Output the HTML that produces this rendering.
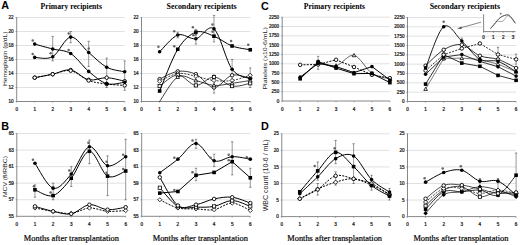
<!DOCTYPE html>
<html><head><meta charset="utf-8"><style>
html,body{margin:0;padding:0;background:#fff;}
body{width:520px;height:245px;overflow:hidden;}
svg{display:block;}
.tk{font-family:"Liberation Sans",sans-serif;font-size:4.6px;fill:#222;stroke:#222;stroke-width:0.24px;}
.st{font-family:"Liberation Sans",sans-serif;font-size:5px;fill:#555;}
.pl{font-family:"Liberation Sans",sans-serif;font-size:10.8px;font-weight:bold;fill:#000;}
.ti{font-family:"Liberation Serif",serif;font-size:8.4px;font-weight:bold;fill:#000;}
.xl{font-family:"Liberation Serif",serif;font-size:8.7px;fill:#000;stroke:#000;stroke-width:0.2px;}
.yl{font-family:"Liberation Sans",sans-serif;font-size:5.5px;fill:#222;}
</style></head><body>
<svg width="520" height="245" viewBox="0 0 520 245">
<rect width="520" height="245" fill="#fff"/>
<line x1="16.7" y1="87.5" x2="124.7" y2="87.5" stroke="#d4d4d4" stroke-width="0.7"/>
<line x1="16.7" y1="73.5" x2="124.7" y2="73.5" stroke="#d4d4d4" stroke-width="0.7"/>
<line x1="16.7" y1="59.5" x2="124.7" y2="59.5" stroke="#d4d4d4" stroke-width="0.7"/>
<line x1="16.7" y1="45.5" x2="124.7" y2="45.5" stroke="#d4d4d4" stroke-width="0.7"/>
<line x1="16.7" y1="31.5" x2="124.7" y2="31.5" stroke="#d4d4d4" stroke-width="0.7"/>
<line x1="16.7" y1="17.5" x2="124.7" y2="17.5" stroke="#d4d4d4" stroke-width="0.7"/>
<line x1="16.7" y1="17.2" x2="16.7" y2="101.5" stroke="#6a6a6a" stroke-width="0.8"/>
<line x1="16.7" y1="101.5" x2="124.7" y2="101.5" stroke="#6a6a6a" stroke-width="0.8"/>
<line x1="15.5" y1="101.5" x2="16.7" y2="101.5" stroke="#6a6a6a" stroke-width="0.6"/>
<text x="13.7" y="103.1" class="tk" text-anchor="end">10</text>
<line x1="15.5" y1="87.5" x2="16.7" y2="87.5" stroke="#6a6a6a" stroke-width="0.6"/>
<text x="13.7" y="89.1" class="tk" text-anchor="end">12</text>
<line x1="15.5" y1="73.5" x2="16.7" y2="73.5" stroke="#6a6a6a" stroke-width="0.6"/>
<text x="13.7" y="75.1" class="tk" text-anchor="end">14</text>
<line x1="15.5" y1="59.5" x2="16.7" y2="59.5" stroke="#6a6a6a" stroke-width="0.6"/>
<text x="13.7" y="61.1" class="tk" text-anchor="end">16</text>
<line x1="15.5" y1="45.5" x2="16.7" y2="45.5" stroke="#6a6a6a" stroke-width="0.6"/>
<text x="13.7" y="47.1" class="tk" text-anchor="end">18</text>
<line x1="15.5" y1="31.5" x2="16.7" y2="31.5" stroke="#6a6a6a" stroke-width="0.6"/>
<text x="13.7" y="33.1" class="tk" text-anchor="end">20</text>
<line x1="15.5" y1="17.5" x2="16.7" y2="17.5" stroke="#6a6a6a" stroke-width="0.6"/>
<text x="13.7" y="19.1" class="tk" text-anchor="end">22</text>
<line x1="16.7" y1="101.5" x2="16.7" y2="102.7" stroke="#6a6a6a" stroke-width="0.6"/>
<text x="16.7" y="111.3" class="tk" text-anchor="middle">0</text>
<line x1="34.7" y1="101.5" x2="34.7" y2="102.7" stroke="#6a6a6a" stroke-width="0.6"/>
<text x="34.7" y="111.3" class="tk" text-anchor="middle">1</text>
<line x1="52.7" y1="101.5" x2="52.7" y2="102.7" stroke="#6a6a6a" stroke-width="0.6"/>
<text x="52.7" y="111.3" class="tk" text-anchor="middle">2</text>
<line x1="70.7" y1="101.5" x2="70.7" y2="102.7" stroke="#6a6a6a" stroke-width="0.6"/>
<text x="70.7" y="111.3" class="tk" text-anchor="middle">3</text>
<line x1="88.7" y1="101.5" x2="88.7" y2="102.7" stroke="#6a6a6a" stroke-width="0.6"/>
<text x="88.7" y="111.3" class="tk" text-anchor="middle">4</text>
<line x1="106.7" y1="101.5" x2="106.7" y2="102.7" stroke="#6a6a6a" stroke-width="0.6"/>
<text x="106.7" y="111.3" class="tk" text-anchor="middle">5</text>
<line x1="124.7" y1="101.5" x2="124.7" y2="102.7" stroke="#6a6a6a" stroke-width="0.6"/>
<text x="124.7" y="111.3" class="tk" text-anchor="middle">6</text>
<line x1="141.5" y1="87.5" x2="250.22" y2="87.5" stroke="#d4d4d4" stroke-width="0.7"/>
<line x1="141.5" y1="73.5" x2="250.22" y2="73.5" stroke="#d4d4d4" stroke-width="0.7"/>
<line x1="141.5" y1="59.5" x2="250.22" y2="59.5" stroke="#d4d4d4" stroke-width="0.7"/>
<line x1="141.5" y1="45.5" x2="250.22" y2="45.5" stroke="#d4d4d4" stroke-width="0.7"/>
<line x1="141.5" y1="31.5" x2="250.22" y2="31.5" stroke="#d4d4d4" stroke-width="0.7"/>
<line x1="141.5" y1="17.5" x2="250.22" y2="17.5" stroke="#d4d4d4" stroke-width="0.7"/>
<line x1="141.5" y1="17.2" x2="141.5" y2="101.5" stroke="#6a6a6a" stroke-width="0.8"/>
<line x1="141.5" y1="101.5" x2="250.22" y2="101.5" stroke="#6a6a6a" stroke-width="0.8"/>
<line x1="140.3" y1="101.5" x2="141.5" y2="101.5" stroke="#6a6a6a" stroke-width="0.6"/>
<text x="138.5" y="103.1" class="tk" text-anchor="end">10</text>
<line x1="140.3" y1="87.5" x2="141.5" y2="87.5" stroke="#6a6a6a" stroke-width="0.6"/>
<text x="138.5" y="89.1" class="tk" text-anchor="end">12</text>
<line x1="140.3" y1="73.5" x2="141.5" y2="73.5" stroke="#6a6a6a" stroke-width="0.6"/>
<text x="138.5" y="75.1" class="tk" text-anchor="end">14</text>
<line x1="140.3" y1="59.5" x2="141.5" y2="59.5" stroke="#6a6a6a" stroke-width="0.6"/>
<text x="138.5" y="61.1" class="tk" text-anchor="end">16</text>
<line x1="140.3" y1="45.5" x2="141.5" y2="45.5" stroke="#6a6a6a" stroke-width="0.6"/>
<text x="138.5" y="47.1" class="tk" text-anchor="end">18</text>
<line x1="140.3" y1="31.5" x2="141.5" y2="31.5" stroke="#6a6a6a" stroke-width="0.6"/>
<text x="138.5" y="33.1" class="tk" text-anchor="end">20</text>
<line x1="140.3" y1="17.5" x2="141.5" y2="17.5" stroke="#6a6a6a" stroke-width="0.6"/>
<text x="138.5" y="19.1" class="tk" text-anchor="end">22</text>
<line x1="141.5" y1="101.5" x2="141.5" y2="102.7" stroke="#6a6a6a" stroke-width="0.6"/>
<text x="141.5" y="111.3" class="tk" text-anchor="middle">0</text>
<line x1="159.62" y1="101.5" x2="159.62" y2="102.7" stroke="#6a6a6a" stroke-width="0.6"/>
<text x="159.62" y="111.3" class="tk" text-anchor="middle">1</text>
<line x1="177.74" y1="101.5" x2="177.74" y2="102.7" stroke="#6a6a6a" stroke-width="0.6"/>
<text x="177.74" y="111.3" class="tk" text-anchor="middle">2</text>
<line x1="195.86" y1="101.5" x2="195.86" y2="102.7" stroke="#6a6a6a" stroke-width="0.6"/>
<text x="195.86" y="111.3" class="tk" text-anchor="middle">3</text>
<line x1="213.98" y1="101.5" x2="213.98" y2="102.7" stroke="#6a6a6a" stroke-width="0.6"/>
<text x="213.98" y="111.3" class="tk" text-anchor="middle">4</text>
<line x1="232.1" y1="101.5" x2="232.1" y2="102.7" stroke="#6a6a6a" stroke-width="0.6"/>
<text x="232.1" y="111.3" class="tk" text-anchor="middle">5</text>
<line x1="250.22" y1="101.5" x2="250.22" y2="102.7" stroke="#6a6a6a" stroke-width="0.6"/>
<text x="250.22" y="111.3" class="tk" text-anchor="middle">6</text>
<line x1="282.2" y1="91.69" x2="389.9" y2="91.69" stroke="#d4d4d4" stroke-width="0.7"/>
<line x1="282.2" y1="82.38" x2="389.9" y2="82.38" stroke="#d4d4d4" stroke-width="0.7"/>
<line x1="282.2" y1="73.07" x2="389.9" y2="73.07" stroke="#d4d4d4" stroke-width="0.7"/>
<line x1="282.2" y1="63.76" x2="389.9" y2="63.76" stroke="#d4d4d4" stroke-width="0.7"/>
<line x1="282.2" y1="54.44" x2="389.9" y2="54.44" stroke="#d4d4d4" stroke-width="0.7"/>
<line x1="282.2" y1="45.13" x2="389.9" y2="45.13" stroke="#d4d4d4" stroke-width="0.7"/>
<line x1="282.2" y1="35.82" x2="389.9" y2="35.82" stroke="#d4d4d4" stroke-width="0.7"/>
<line x1="282.2" y1="26.51" x2="389.9" y2="26.51" stroke="#d4d4d4" stroke-width="0.7"/>
<line x1="282.2" y1="17.2" x2="389.9" y2="17.2" stroke="#d4d4d4" stroke-width="0.7"/>
<line x1="282.2" y1="16.9" x2="282.2" y2="101" stroke="#6a6a6a" stroke-width="0.8"/>
<line x1="282.2" y1="101" x2="389.9" y2="101" stroke="#6a6a6a" stroke-width="0.8"/>
<line x1="281" y1="101" x2="282.2" y2="101" stroke="#6a6a6a" stroke-width="0.6"/>
<text x="279.2" y="102.6" class="tk" text-anchor="end">0</text>
<line x1="281" y1="91.69" x2="282.2" y2="91.69" stroke="#6a6a6a" stroke-width="0.6"/>
<text x="279.2" y="93.29" class="tk" text-anchor="end">250</text>
<line x1="281" y1="82.38" x2="282.2" y2="82.38" stroke="#6a6a6a" stroke-width="0.6"/>
<text x="279.2" y="83.98" class="tk" text-anchor="end">500</text>
<line x1="281" y1="73.07" x2="282.2" y2="73.07" stroke="#6a6a6a" stroke-width="0.6"/>
<text x="279.2" y="74.67" class="tk" text-anchor="end">750</text>
<line x1="281" y1="63.76" x2="282.2" y2="63.76" stroke="#6a6a6a" stroke-width="0.6"/>
<text x="279.2" y="65.36" class="tk" text-anchor="end">1000</text>
<line x1="281" y1="54.44" x2="282.2" y2="54.44" stroke="#6a6a6a" stroke-width="0.6"/>
<text x="279.2" y="56.04" class="tk" text-anchor="end">1250</text>
<line x1="281" y1="45.13" x2="282.2" y2="45.13" stroke="#6a6a6a" stroke-width="0.6"/>
<text x="279.2" y="46.73" class="tk" text-anchor="end">1500</text>
<line x1="281" y1="35.82" x2="282.2" y2="35.82" stroke="#6a6a6a" stroke-width="0.6"/>
<text x="279.2" y="37.42" class="tk" text-anchor="end">1750</text>
<line x1="281" y1="26.51" x2="282.2" y2="26.51" stroke="#6a6a6a" stroke-width="0.6"/>
<text x="279.2" y="28.11" class="tk" text-anchor="end">2000</text>
<line x1="281" y1="17.2" x2="282.2" y2="17.2" stroke="#6a6a6a" stroke-width="0.6"/>
<text x="279.2" y="18.8" class="tk" text-anchor="end">2250</text>
<line x1="282.2" y1="101" x2="282.2" y2="102.2" stroke="#6a6a6a" stroke-width="0.6"/>
<text x="282.2" y="110.8" class="tk" text-anchor="middle">0</text>
<line x1="300.15" y1="101" x2="300.15" y2="102.2" stroke="#6a6a6a" stroke-width="0.6"/>
<text x="300.15" y="110.8" class="tk" text-anchor="middle">1</text>
<line x1="318.1" y1="101" x2="318.1" y2="102.2" stroke="#6a6a6a" stroke-width="0.6"/>
<text x="318.1" y="110.8" class="tk" text-anchor="middle">2</text>
<line x1="336.05" y1="101" x2="336.05" y2="102.2" stroke="#6a6a6a" stroke-width="0.6"/>
<text x="336.05" y="110.8" class="tk" text-anchor="middle">3</text>
<line x1="354" y1="101" x2="354" y2="102.2" stroke="#6a6a6a" stroke-width="0.6"/>
<text x="354" y="110.8" class="tk" text-anchor="middle">4</text>
<line x1="371.95" y1="101" x2="371.95" y2="102.2" stroke="#6a6a6a" stroke-width="0.6"/>
<text x="371.95" y="110.8" class="tk" text-anchor="middle">5</text>
<line x1="389.9" y1="101" x2="389.9" y2="102.2" stroke="#6a6a6a" stroke-width="0.6"/>
<text x="389.9" y="110.8" class="tk" text-anchor="middle">6</text>
<line x1="407.5" y1="92.17" x2="516.1" y2="92.17" stroke="#d4d4d4" stroke-width="0.7"/>
<line x1="407.5" y1="82.83" x2="516.1" y2="82.83" stroke="#d4d4d4" stroke-width="0.7"/>
<line x1="407.5" y1="73.5" x2="516.1" y2="73.5" stroke="#d4d4d4" stroke-width="0.7"/>
<line x1="407.5" y1="64.17" x2="516.1" y2="64.17" stroke="#d4d4d4" stroke-width="0.7"/>
<line x1="407.5" y1="54.83" x2="516.1" y2="54.83" stroke="#d4d4d4" stroke-width="0.7"/>
<line x1="407.5" y1="45.5" x2="516.1" y2="45.5" stroke="#d4d4d4" stroke-width="0.7"/>
<line x1="407.5" y1="36.17" x2="516.1" y2="36.17" stroke="#d4d4d4" stroke-width="0.7"/>
<line x1="407.5" y1="26.83" x2="516.1" y2="26.83" stroke="#d4d4d4" stroke-width="0.7"/>
<line x1="407.5" y1="17.5" x2="516.1" y2="17.5" stroke="#d4d4d4" stroke-width="0.7"/>
<line x1="407.5" y1="17.2" x2="407.5" y2="101.5" stroke="#6a6a6a" stroke-width="0.8"/>
<line x1="407.5" y1="101.5" x2="516.1" y2="101.5" stroke="#6a6a6a" stroke-width="0.8"/>
<line x1="406.3" y1="101.5" x2="407.5" y2="101.5" stroke="#6a6a6a" stroke-width="0.6"/>
<text x="404.5" y="103.1" class="tk" text-anchor="end">0</text>
<line x1="406.3" y1="92.17" x2="407.5" y2="92.17" stroke="#6a6a6a" stroke-width="0.6"/>
<text x="404.5" y="93.77" class="tk" text-anchor="end">250</text>
<line x1="406.3" y1="82.83" x2="407.5" y2="82.83" stroke="#6a6a6a" stroke-width="0.6"/>
<text x="404.5" y="84.43" class="tk" text-anchor="end">500</text>
<line x1="406.3" y1="73.5" x2="407.5" y2="73.5" stroke="#6a6a6a" stroke-width="0.6"/>
<text x="404.5" y="75.1" class="tk" text-anchor="end">750</text>
<line x1="406.3" y1="64.17" x2="407.5" y2="64.17" stroke="#6a6a6a" stroke-width="0.6"/>
<text x="404.5" y="65.77" class="tk" text-anchor="end">1000</text>
<line x1="406.3" y1="54.83" x2="407.5" y2="54.83" stroke="#6a6a6a" stroke-width="0.6"/>
<text x="404.5" y="56.43" class="tk" text-anchor="end">1250</text>
<line x1="406.3" y1="45.5" x2="407.5" y2="45.5" stroke="#6a6a6a" stroke-width="0.6"/>
<text x="404.5" y="47.1" class="tk" text-anchor="end">1500</text>
<line x1="406.3" y1="36.17" x2="407.5" y2="36.17" stroke="#6a6a6a" stroke-width="0.6"/>
<text x="404.5" y="37.77" class="tk" text-anchor="end">1750</text>
<line x1="406.3" y1="26.83" x2="407.5" y2="26.83" stroke="#6a6a6a" stroke-width="0.6"/>
<text x="404.5" y="28.43" class="tk" text-anchor="end">2000</text>
<line x1="406.3" y1="17.5" x2="407.5" y2="17.5" stroke="#6a6a6a" stroke-width="0.6"/>
<text x="404.5" y="19.1" class="tk" text-anchor="end">2250</text>
<line x1="407.5" y1="101.5" x2="407.5" y2="102.7" stroke="#6a6a6a" stroke-width="0.6"/>
<text x="407.5" y="111.3" class="tk" text-anchor="middle">0</text>
<line x1="425.6" y1="101.5" x2="425.6" y2="102.7" stroke="#6a6a6a" stroke-width="0.6"/>
<text x="425.6" y="111.3" class="tk" text-anchor="middle">1</text>
<line x1="443.7" y1="101.5" x2="443.7" y2="102.7" stroke="#6a6a6a" stroke-width="0.6"/>
<text x="443.7" y="111.3" class="tk" text-anchor="middle">2</text>
<line x1="461.8" y1="101.5" x2="461.8" y2="102.7" stroke="#6a6a6a" stroke-width="0.6"/>
<text x="461.8" y="111.3" class="tk" text-anchor="middle">3</text>
<line x1="479.9" y1="101.5" x2="479.9" y2="102.7" stroke="#6a6a6a" stroke-width="0.6"/>
<text x="479.9" y="111.3" class="tk" text-anchor="middle">4</text>
<line x1="498" y1="101.5" x2="498" y2="102.7" stroke="#6a6a6a" stroke-width="0.6"/>
<text x="498" y="111.3" class="tk" text-anchor="middle">5</text>
<line x1="516.1" y1="101.5" x2="516.1" y2="102.7" stroke="#6a6a6a" stroke-width="0.6"/>
<text x="516.1" y="111.3" class="tk" text-anchor="middle">6</text>
<line x1="16.8" y1="199.74" x2="125.7" y2="199.74" stroke="#d4d4d4" stroke-width="0.7"/>
<line x1="16.8" y1="183.18" x2="125.7" y2="183.18" stroke="#d4d4d4" stroke-width="0.7"/>
<line x1="16.8" y1="166.62" x2="125.7" y2="166.62" stroke="#d4d4d4" stroke-width="0.7"/>
<line x1="16.8" y1="150.06" x2="125.7" y2="150.06" stroke="#d4d4d4" stroke-width="0.7"/>
<line x1="16.8" y1="133.5" x2="125.7" y2="133.5" stroke="#d4d4d4" stroke-width="0.7"/>
<line x1="16.8" y1="133.2" x2="16.8" y2="216.3" stroke="#6a6a6a" stroke-width="0.8"/>
<line x1="16.8" y1="216.3" x2="125.7" y2="216.3" stroke="#6a6a6a" stroke-width="0.8"/>
<line x1="15.6" y1="216.3" x2="16.8" y2="216.3" stroke="#6a6a6a" stroke-width="0.6"/>
<text x="13.8" y="217.9" class="tk" text-anchor="end">55</text>
<line x1="15.6" y1="199.74" x2="16.8" y2="199.74" stroke="#6a6a6a" stroke-width="0.6"/>
<text x="13.8" y="201.34" class="tk" text-anchor="end">57</text>
<line x1="15.6" y1="183.18" x2="16.8" y2="183.18" stroke="#6a6a6a" stroke-width="0.6"/>
<text x="13.8" y="184.78" class="tk" text-anchor="end">59</text>
<line x1="15.6" y1="166.62" x2="16.8" y2="166.62" stroke="#6a6a6a" stroke-width="0.6"/>
<text x="13.8" y="168.22" class="tk" text-anchor="end">61</text>
<line x1="15.6" y1="150.06" x2="16.8" y2="150.06" stroke="#6a6a6a" stroke-width="0.6"/>
<text x="13.8" y="151.66" class="tk" text-anchor="end">63</text>
<line x1="15.6" y1="133.5" x2="16.8" y2="133.5" stroke="#6a6a6a" stroke-width="0.6"/>
<text x="13.8" y="135.1" class="tk" text-anchor="end">65</text>
<line x1="16.8" y1="216.3" x2="16.8" y2="217.5" stroke="#6a6a6a" stroke-width="0.6"/>
<text x="16.8" y="226.1" class="tk" text-anchor="middle">0</text>
<line x1="34.95" y1="216.3" x2="34.95" y2="217.5" stroke="#6a6a6a" stroke-width="0.6"/>
<text x="34.95" y="226.1" class="tk" text-anchor="middle">1</text>
<line x1="53.1" y1="216.3" x2="53.1" y2="217.5" stroke="#6a6a6a" stroke-width="0.6"/>
<text x="53.1" y="226.1" class="tk" text-anchor="middle">2</text>
<line x1="71.25" y1="216.3" x2="71.25" y2="217.5" stroke="#6a6a6a" stroke-width="0.6"/>
<text x="71.25" y="226.1" class="tk" text-anchor="middle">3</text>
<line x1="89.4" y1="216.3" x2="89.4" y2="217.5" stroke="#6a6a6a" stroke-width="0.6"/>
<text x="89.4" y="226.1" class="tk" text-anchor="middle">4</text>
<line x1="107.55" y1="216.3" x2="107.55" y2="217.5" stroke="#6a6a6a" stroke-width="0.6"/>
<text x="107.55" y="226.1" class="tk" text-anchor="middle">5</text>
<line x1="125.7" y1="216.3" x2="125.7" y2="217.5" stroke="#6a6a6a" stroke-width="0.6"/>
<text x="125.7" y="226.1" class="tk" text-anchor="middle">6</text>
<line x1="141.7" y1="199.74" x2="250.3" y2="199.74" stroke="#d4d4d4" stroke-width="0.7"/>
<line x1="141.7" y1="183.18" x2="250.3" y2="183.18" stroke="#d4d4d4" stroke-width="0.7"/>
<line x1="141.7" y1="166.62" x2="250.3" y2="166.62" stroke="#d4d4d4" stroke-width="0.7"/>
<line x1="141.7" y1="150.06" x2="250.3" y2="150.06" stroke="#d4d4d4" stroke-width="0.7"/>
<line x1="141.7" y1="133.5" x2="250.3" y2="133.5" stroke="#d4d4d4" stroke-width="0.7"/>
<line x1="141.7" y1="133.2" x2="141.7" y2="216.3" stroke="#6a6a6a" stroke-width="0.8"/>
<line x1="141.7" y1="216.3" x2="250.3" y2="216.3" stroke="#6a6a6a" stroke-width="0.8"/>
<line x1="140.5" y1="216.3" x2="141.7" y2="216.3" stroke="#6a6a6a" stroke-width="0.6"/>
<text x="138.7" y="217.9" class="tk" text-anchor="end">55</text>
<line x1="140.5" y1="199.74" x2="141.7" y2="199.74" stroke="#6a6a6a" stroke-width="0.6"/>
<text x="138.7" y="201.34" class="tk" text-anchor="end">57</text>
<line x1="140.5" y1="183.18" x2="141.7" y2="183.18" stroke="#6a6a6a" stroke-width="0.6"/>
<text x="138.7" y="184.78" class="tk" text-anchor="end">59</text>
<line x1="140.5" y1="166.62" x2="141.7" y2="166.62" stroke="#6a6a6a" stroke-width="0.6"/>
<text x="138.7" y="168.22" class="tk" text-anchor="end">61</text>
<line x1="140.5" y1="150.06" x2="141.7" y2="150.06" stroke="#6a6a6a" stroke-width="0.6"/>
<text x="138.7" y="151.66" class="tk" text-anchor="end">63</text>
<line x1="140.5" y1="133.5" x2="141.7" y2="133.5" stroke="#6a6a6a" stroke-width="0.6"/>
<text x="138.7" y="135.1" class="tk" text-anchor="end">65</text>
<line x1="141.7" y1="216.3" x2="141.7" y2="217.5" stroke="#6a6a6a" stroke-width="0.6"/>
<text x="141.7" y="226.1" class="tk" text-anchor="middle">0</text>
<line x1="159.8" y1="216.3" x2="159.8" y2="217.5" stroke="#6a6a6a" stroke-width="0.6"/>
<text x="159.8" y="226.1" class="tk" text-anchor="middle">1</text>
<line x1="177.9" y1="216.3" x2="177.9" y2="217.5" stroke="#6a6a6a" stroke-width="0.6"/>
<text x="177.9" y="226.1" class="tk" text-anchor="middle">2</text>
<line x1="196" y1="216.3" x2="196" y2="217.5" stroke="#6a6a6a" stroke-width="0.6"/>
<text x="196" y="226.1" class="tk" text-anchor="middle">3</text>
<line x1="214.1" y1="216.3" x2="214.1" y2="217.5" stroke="#6a6a6a" stroke-width="0.6"/>
<text x="214.1" y="226.1" class="tk" text-anchor="middle">4</text>
<line x1="232.2" y1="216.3" x2="232.2" y2="217.5" stroke="#6a6a6a" stroke-width="0.6"/>
<text x="232.2" y="226.1" class="tk" text-anchor="middle">5</text>
<line x1="250.3" y1="216.3" x2="250.3" y2="217.5" stroke="#6a6a6a" stroke-width="0.6"/>
<text x="250.3" y="226.1" class="tk" text-anchor="middle">6</text>
<line x1="281.8" y1="200.04" x2="389.5" y2="200.04" stroke="#d4d4d4" stroke-width="0.7"/>
<line x1="281.8" y1="183.48" x2="389.5" y2="183.48" stroke="#d4d4d4" stroke-width="0.7"/>
<line x1="281.8" y1="166.92" x2="389.5" y2="166.92" stroke="#d4d4d4" stroke-width="0.7"/>
<line x1="281.8" y1="150.36" x2="389.5" y2="150.36" stroke="#d4d4d4" stroke-width="0.7"/>
<line x1="281.8" y1="133.8" x2="389.5" y2="133.8" stroke="#d4d4d4" stroke-width="0.7"/>
<line x1="281.8" y1="133.5" x2="281.8" y2="216.6" stroke="#6a6a6a" stroke-width="0.8"/>
<line x1="281.8" y1="216.6" x2="389.5" y2="216.6" stroke="#6a6a6a" stroke-width="0.8"/>
<line x1="280.6" y1="216.6" x2="281.8" y2="216.6" stroke="#6a6a6a" stroke-width="0.6"/>
<text x="278.8" y="218.2" class="tk" text-anchor="end">0</text>
<line x1="280.6" y1="200.04" x2="281.8" y2="200.04" stroke="#6a6a6a" stroke-width="0.6"/>
<text x="278.8" y="201.64" class="tk" text-anchor="end">5</text>
<line x1="280.6" y1="183.48" x2="281.8" y2="183.48" stroke="#6a6a6a" stroke-width="0.6"/>
<text x="278.8" y="185.08" class="tk" text-anchor="end">10</text>
<line x1="280.6" y1="166.92" x2="281.8" y2="166.92" stroke="#6a6a6a" stroke-width="0.6"/>
<text x="278.8" y="168.52" class="tk" text-anchor="end">15</text>
<line x1="280.6" y1="150.36" x2="281.8" y2="150.36" stroke="#6a6a6a" stroke-width="0.6"/>
<text x="278.8" y="151.96" class="tk" text-anchor="end">20</text>
<line x1="280.6" y1="133.8" x2="281.8" y2="133.8" stroke="#6a6a6a" stroke-width="0.6"/>
<text x="278.8" y="135.4" class="tk" text-anchor="end">25</text>
<line x1="281.8" y1="216.6" x2="281.8" y2="217.8" stroke="#6a6a6a" stroke-width="0.6"/>
<text x="281.8" y="226.4" class="tk" text-anchor="middle">0</text>
<line x1="299.75" y1="216.6" x2="299.75" y2="217.8" stroke="#6a6a6a" stroke-width="0.6"/>
<text x="299.75" y="226.4" class="tk" text-anchor="middle">1</text>
<line x1="317.7" y1="216.6" x2="317.7" y2="217.8" stroke="#6a6a6a" stroke-width="0.6"/>
<text x="317.7" y="226.4" class="tk" text-anchor="middle">2</text>
<line x1="335.65" y1="216.6" x2="335.65" y2="217.8" stroke="#6a6a6a" stroke-width="0.6"/>
<text x="335.65" y="226.4" class="tk" text-anchor="middle">3</text>
<line x1="353.6" y1="216.6" x2="353.6" y2="217.8" stroke="#6a6a6a" stroke-width="0.6"/>
<text x="353.6" y="226.4" class="tk" text-anchor="middle">4</text>
<line x1="371.55" y1="216.6" x2="371.55" y2="217.8" stroke="#6a6a6a" stroke-width="0.6"/>
<text x="371.55" y="226.4" class="tk" text-anchor="middle">5</text>
<line x1="389.5" y1="216.6" x2="389.5" y2="217.8" stroke="#6a6a6a" stroke-width="0.6"/>
<text x="389.5" y="226.4" class="tk" text-anchor="middle">6</text>
<line x1="407.5" y1="200.04" x2="516.1" y2="200.04" stroke="#d4d4d4" stroke-width="0.7"/>
<line x1="407.5" y1="183.48" x2="516.1" y2="183.48" stroke="#d4d4d4" stroke-width="0.7"/>
<line x1="407.5" y1="166.92" x2="516.1" y2="166.92" stroke="#d4d4d4" stroke-width="0.7"/>
<line x1="407.5" y1="150.36" x2="516.1" y2="150.36" stroke="#d4d4d4" stroke-width="0.7"/>
<line x1="407.5" y1="133.8" x2="516.1" y2="133.8" stroke="#d4d4d4" stroke-width="0.7"/>
<line x1="407.5" y1="133.5" x2="407.5" y2="216.6" stroke="#6a6a6a" stroke-width="0.8"/>
<line x1="407.5" y1="216.6" x2="516.1" y2="216.6" stroke="#6a6a6a" stroke-width="0.8"/>
<line x1="406.3" y1="216.6" x2="407.5" y2="216.6" stroke="#6a6a6a" stroke-width="0.6"/>
<text x="404.5" y="218.2" class="tk" text-anchor="end">0</text>
<line x1="406.3" y1="200.04" x2="407.5" y2="200.04" stroke="#6a6a6a" stroke-width="0.6"/>
<text x="404.5" y="201.64" class="tk" text-anchor="end">5</text>
<line x1="406.3" y1="183.48" x2="407.5" y2="183.48" stroke="#6a6a6a" stroke-width="0.6"/>
<text x="404.5" y="185.08" class="tk" text-anchor="end">10</text>
<line x1="406.3" y1="166.92" x2="407.5" y2="166.92" stroke="#6a6a6a" stroke-width="0.6"/>
<text x="404.5" y="168.52" class="tk" text-anchor="end">15</text>
<line x1="406.3" y1="150.36" x2="407.5" y2="150.36" stroke="#6a6a6a" stroke-width="0.6"/>
<text x="404.5" y="151.96" class="tk" text-anchor="end">20</text>
<line x1="406.3" y1="133.8" x2="407.5" y2="133.8" stroke="#6a6a6a" stroke-width="0.6"/>
<text x="404.5" y="135.4" class="tk" text-anchor="end">25</text>
<line x1="407.5" y1="216.6" x2="407.5" y2="217.8" stroke="#6a6a6a" stroke-width="0.6"/>
<text x="407.5" y="226.4" class="tk" text-anchor="middle">0</text>
<line x1="425.6" y1="216.6" x2="425.6" y2="217.8" stroke="#6a6a6a" stroke-width="0.6"/>
<text x="425.6" y="226.4" class="tk" text-anchor="middle">1</text>
<line x1="443.7" y1="216.6" x2="443.7" y2="217.8" stroke="#6a6a6a" stroke-width="0.6"/>
<text x="443.7" y="226.4" class="tk" text-anchor="middle">2</text>
<line x1="461.8" y1="216.6" x2="461.8" y2="217.8" stroke="#6a6a6a" stroke-width="0.6"/>
<text x="461.8" y="226.4" class="tk" text-anchor="middle">3</text>
<line x1="479.9" y1="216.6" x2="479.9" y2="217.8" stroke="#6a6a6a" stroke-width="0.6"/>
<text x="479.9" y="226.4" class="tk" text-anchor="middle">4</text>
<line x1="498" y1="216.6" x2="498" y2="217.8" stroke="#6a6a6a" stroke-width="0.6"/>
<text x="498" y="226.4" class="tk" text-anchor="middle">5</text>
<line x1="516.1" y1="216.6" x2="516.1" y2="217.8" stroke="#6a6a6a" stroke-width="0.6"/>
<text x="516.1" y="226.4" class="tk" text-anchor="middle">6</text>
<line x1="52.7" y1="36.4" x2="52.7" y2="60.9" stroke="#333" stroke-width="0.5"/>
<line x1="51.5" y1="36.4" x2="53.9" y2="36.4" stroke="#333" stroke-width="0.5"/>
<line x1="51.5" y1="60.9" x2="53.9" y2="60.9" stroke="#333" stroke-width="0.5"/>
<line x1="88.7" y1="41.3" x2="88.7" y2="66.5" stroke="#333" stroke-width="0.5"/>
<line x1="87.5" y1="41.3" x2="89.9" y2="41.3" stroke="#333" stroke-width="0.5"/>
<line x1="87.5" y1="66.5" x2="89.9" y2="66.5" stroke="#333" stroke-width="0.5"/>
<line x1="106.7" y1="58.1" x2="106.7" y2="87.5" stroke="#333" stroke-width="0.5"/>
<line x1="105.5" y1="58.1" x2="107.9" y2="58.1" stroke="#333" stroke-width="0.5"/>
<line x1="105.5" y1="87.5" x2="107.9" y2="87.5" stroke="#333" stroke-width="0.5"/>
<line x1="124.7" y1="60.9" x2="124.7" y2="90.3" stroke="#333" stroke-width="0.5"/>
<line x1="123.5" y1="60.9" x2="125.9" y2="60.9" stroke="#333" stroke-width="0.5"/>
<line x1="123.5" y1="90.3" x2="125.9" y2="90.3" stroke="#333" stroke-width="0.5"/>
<line x1="70.7" y1="31.5" x2="70.7" y2="42.7" stroke="#333" stroke-width="0.5"/>
<line x1="69.5" y1="31.5" x2="71.9" y2="31.5" stroke="#333" stroke-width="0.5"/>
<line x1="69.5" y1="42.7" x2="71.9" y2="42.7" stroke="#333" stroke-width="0.5"/>
<path d="M34.7,77.7 C37.7,77.12 46.7,75.48 52.7,74.2 C58.7,72.92 64.7,69.07 70.7,70 C76.7,70.93 82.7,78.52 88.7,79.8 C94.7,81.08 100.7,77.47 106.7,77.7 C112.7,77.93 121.7,80.62 124.7,81.2" fill="none" stroke="#000" stroke-width="1.0"/>
<circle cx="34.7" cy="77.7" r="1.75" fill="#fff" stroke="#000" stroke-width="0.9"/>
<circle cx="52.7" cy="74.2" r="1.75" fill="#fff" stroke="#000" stroke-width="0.9"/>
<circle cx="70.7" cy="70" r="1.75" fill="#fff" stroke="#000" stroke-width="0.9"/>
<circle cx="88.7" cy="79.8" r="1.75" fill="#fff" stroke="#000" stroke-width="0.9"/>
<circle cx="106.7" cy="77.7" r="1.75" fill="#fff" stroke="#000" stroke-width="0.9"/>
<circle cx="124.7" cy="81.2" r="1.75" fill="#fff" stroke="#000" stroke-width="0.9"/>
<path d="M34.7,77.7 C37.7,77.12 46.7,75.37 52.7,74.2 C58.7,73.03 64.7,69.65 70.7,70.7 C76.7,71.75 82.7,78.28 88.7,80.5 C94.7,82.72 100.7,83.18 106.7,84 C112.7,84.82 121.7,85.17 124.7,85.4" fill="none" stroke="#000" stroke-width="1.0" stroke-dasharray="2,1.3"/>
<circle cx="34.7" cy="77.7" r="1.75" fill="#fff" stroke="#000" stroke-width="0.9"/>
<circle cx="52.7" cy="74.2" r="1.75" fill="#fff" stroke="#000" stroke-width="0.9"/>
<circle cx="70.7" cy="70.7" r="1.75" fill="#fff" stroke="#000" stroke-width="0.9"/>
<circle cx="88.7" cy="80.5" r="1.75" fill="#fff" stroke="#000" stroke-width="0.9"/>
<circle cx="106.7" cy="84" r="1.75" fill="#fff" stroke="#000" stroke-width="0.9"/>
<circle cx="124.7" cy="85.4" r="1.75" fill="#fff" stroke="#000" stroke-width="0.9"/>
<path d="M34.7,44.1 C37.7,44.92 46.7,47.43 52.7,49 C58.7,50.57 64.7,49.82 70.7,53.55 C76.7,57.28 82.7,66.38 88.7,71.4 C94.7,76.42 100.7,81.84 106.7,83.65 C112.7,85.46 121.7,82.48 124.7,82.25" fill="none" stroke="#000" stroke-width="1.0"/>
<circle cx="34.7" cy="44.1" r="1.8" fill="#000"/>
<circle cx="52.7" cy="49" r="1.8" fill="#000"/>
<circle cx="70.7" cy="53.55" r="1.8" fill="#000"/>
<circle cx="88.7" cy="71.4" r="1.8" fill="#000"/>
<circle cx="106.7" cy="83.65" r="1.8" fill="#000"/>
<circle cx="124.7" cy="82.25" r="1.8" fill="#000"/>
<path d="M34.7,57.4 C37.7,57.28 46.7,60.08 52.7,56.7 C58.7,53.32 64.7,37.8 70.7,37.1 C76.7,36.4 82.7,47.48 88.7,52.5 C94.7,57.52 100.7,63.98 106.7,67.2 C112.7,70.42 121.7,71.05 124.7,71.82" fill="none" stroke="#000" stroke-width="1.0"/>
<circle cx="34.7" cy="57.4" r="1.8" fill="#000"/>
<circle cx="52.7" cy="56.7" r="1.8" fill="#000"/>
<circle cx="70.7" cy="37.1" r="1.8" fill="#000"/>
<circle cx="88.7" cy="52.5" r="1.8" fill="#000"/>
<circle cx="106.7" cy="67.2" r="1.8" fill="#000"/>
<circle cx="124.7" cy="71.82" r="1.8" fill="#000"/>
<circle cx="32.7" cy="40.6" r="1.25" fill="#666"/>
<circle cx="32.7" cy="53.9" r="1.25" fill="#666"/>
<circle cx="50.7" cy="53.2" r="1.25" fill="#666"/>
<circle cx="68.7" cy="33.6" r="1.25" fill="#666"/>
<circle cx="68.7" cy="50.05" r="1.25" fill="#666"/>
<circle cx="88.7" cy="48.5" r="1.25" fill="#666"/>
<line x1="213.98" y1="15.4" x2="213.98" y2="42" stroke="#333" stroke-width="0.5"/>
<line x1="212.78" y1="15.4" x2="215.18" y2="15.4" stroke="#333" stroke-width="0.5"/>
<line x1="212.78" y1="42" x2="215.18" y2="42" stroke="#333" stroke-width="0.5"/>
<line x1="232.1" y1="59.5" x2="232.1" y2="87.5" stroke="#333" stroke-width="0.5"/>
<line x1="230.9" y1="59.5" x2="233.3" y2="59.5" stroke="#333" stroke-width="0.5"/>
<line x1="230.9" y1="87.5" x2="233.3" y2="87.5" stroke="#333" stroke-width="0.5"/>
<line x1="250.22" y1="67.9" x2="250.22" y2="87.5" stroke="#333" stroke-width="0.5"/>
<line x1="249.02" y1="67.9" x2="251.42" y2="67.9" stroke="#333" stroke-width="0.5"/>
<line x1="249.02" y1="87.5" x2="251.42" y2="87.5" stroke="#333" stroke-width="0.5"/>
<line x1="213.98" y1="74.9" x2="213.98" y2="93.1" stroke="#333" stroke-width="0.5"/>
<line x1="212.78" y1="74.9" x2="215.18" y2="74.9" stroke="#333" stroke-width="0.5"/>
<line x1="212.78" y1="93.1" x2="215.18" y2="93.1" stroke="#333" stroke-width="0.5"/>
<path d="M159.62,79.1 C162.64,77.82 171.7,72.22 177.74,71.4 C183.78,70.58 189.82,71.52 195.86,74.2 C201.9,76.88 207.94,87.33 213.98,87.5 C220.02,87.67 226.06,76.77 232.1,75.25 C238.14,73.73 247.2,77.88 250.22,78.4" fill="none" stroke="#000" stroke-width="0.75"/>
<circle cx="159.62" cy="79.1" r="1.75" fill="#fff" stroke="#000" stroke-width="0.9"/>
<circle cx="177.74" cy="71.4" r="1.75" fill="#fff" stroke="#000" stroke-width="0.9"/>
<circle cx="195.86" cy="74.2" r="1.75" fill="#fff" stroke="#000" stroke-width="0.9"/>
<circle cx="213.98" cy="87.5" r="1.75" fill="#fff" stroke="#000" stroke-width="0.9"/>
<circle cx="232.1" cy="75.25" r="1.75" fill="#fff" stroke="#000" stroke-width="0.9"/>
<circle cx="250.22" cy="78.4" r="1.75" fill="#fff" stroke="#000" stroke-width="0.9"/>
<path d="M159.62,81.2 C162.64,79.92 171.7,74.32 177.74,73.5 C183.78,72.68 189.82,75.13 195.86,76.3 C201.9,77.47 207.94,79.8 213.98,80.5 C220.02,81.2 226.06,81.38 232.1,80.5 C238.14,79.62 247.2,76.12 250.22,75.25" fill="none" stroke="#000" stroke-width="0.75" stroke-dasharray="2,1.3"/>
<path d="M159.62,79.1 L161.72,81.2 L159.62,83.3 L157.52,81.2Z" fill="#fff" stroke="#000" stroke-width="0.8"/>
<path d="M177.74,71.4 L179.84,73.5 L177.74,75.6 L175.64,73.5Z" fill="#fff" stroke="#000" stroke-width="0.8"/>
<path d="M195.86,74.2 L197.96,76.3 L195.86,78.4 L193.76,76.3Z" fill="#fff" stroke="#000" stroke-width="0.8"/>
<path d="M213.98,78.4 L216.08,80.5 L213.98,82.6 L211.88,80.5Z" fill="#fff" stroke="#000" stroke-width="0.8"/>
<path d="M232.1,78.4 L234.2,80.5 L232.1,82.6 L230,80.5Z" fill="#fff" stroke="#000" stroke-width="0.8"/>
<path d="M250.22,73.15 L252.32,75.25 L250.22,77.35 L248.12,75.25Z" fill="#fff" stroke="#000" stroke-width="0.8"/>
<path d="M159.62,86.1 C162.64,84.23 171.7,75.02 177.74,74.9 C183.78,74.78 189.82,85.05 195.86,85.4 C201.9,85.75 207.94,76.88 213.98,77 C220.02,77.12 226.06,85.05 232.1,86.1 C238.14,87.15 247.2,83.77 250.22,83.3" fill="none" stroke="#000" stroke-width="0.75"/>
<rect x="158.02" y="84.5" width="3.2" height="3.2" fill="#fff" stroke="#000" stroke-width="0.8"/>
<rect x="176.14" y="73.3" width="3.2" height="3.2" fill="#fff" stroke="#000" stroke-width="0.8"/>
<rect x="194.26" y="83.8" width="3.2" height="3.2" fill="#fff" stroke="#000" stroke-width="0.8"/>
<rect x="212.38" y="75.4" width="3.2" height="3.2" fill="#fff" stroke="#000" stroke-width="0.8"/>
<rect x="230.5" y="84.5" width="3.2" height="3.2" fill="#fff" stroke="#000" stroke-width="0.8"/>
<rect x="248.62" y="81.7" width="3.2" height="3.2" fill="#fff" stroke="#000" stroke-width="0.8"/>
<path d="M159.62,101.5 C162.64,97.42 171.7,80.5 177.74,77 C183.78,73.5 189.82,79.1 195.86,80.5 C201.9,81.9 207.94,84.93 213.98,85.4 C220.02,85.87 226.06,84.12 232.1,83.3 C238.14,82.48 247.2,80.97 250.22,80.5" fill="none" stroke="#000" stroke-width="0.75"/>
<path d="M177.74,75.2 L179.54,78.44 L175.94,78.44Z" fill="#fff" stroke="#000" stroke-width="0.8"/>
<path d="M195.86,78.7 L197.66,81.94 L194.06,81.94Z" fill="#fff" stroke="#000" stroke-width="0.8"/>
<path d="M213.98,83.6 L215.78,86.84 L212.18,86.84Z" fill="#fff" stroke="#000" stroke-width="0.8"/>
<path d="M232.1,81.5 L233.9,84.74 L230.3,84.74Z" fill="#fff" stroke="#000" stroke-width="0.8"/>
<path d="M250.22,78.7 L252.02,81.94 L248.42,81.94Z" fill="#fff" stroke="#000" stroke-width="0.8"/>
<path d="M159.62,91 C162.64,84.05 171.7,59.08 177.74,49.28 C183.78,39.48 189.82,34.38 195.86,32.2 C201.9,30.02 207.94,33.89 213.98,36.19 C220.02,38.49 226.06,43.73 232.1,45.99 C238.14,48.25 247.2,49.14 250.22,49.77" fill="none" stroke="#000" stroke-width="1.0"/>
<rect x="157.82" y="89.2" width="3.6" height="3.6" fill="#000"/>
<rect x="175.94" y="47.48" width="3.6" height="3.6" fill="#000"/>
<rect x="194.06" y="30.4" width="3.6" height="3.6" fill="#000"/>
<rect x="212.18" y="34.39" width="3.6" height="3.6" fill="#000"/>
<rect x="230.3" y="44.19" width="3.6" height="3.6" fill="#000"/>
<rect x="248.42" y="47.97" width="3.6" height="3.6" fill="#000"/>
<path d="M159.62,51.8 C162.64,49 171.7,37.18 177.74,35 C183.78,32.82 189.82,39.73 195.86,38.71 C201.9,37.7 207.94,23.81 213.98,28.91 C220.02,34.01 226.06,61.01 232.1,69.3 C238.14,77.6 247.2,77.12 250.22,78.68" fill="none" stroke="#000" stroke-width="1.0"/>
<circle cx="159.62" cy="51.8" r="1.8" fill="#000"/>
<circle cx="177.74" cy="35" r="1.8" fill="#000"/>
<circle cx="195.86" cy="38.71" r="1.8" fill="#000"/>
<circle cx="213.98" cy="28.91" r="1.8" fill="#000"/>
<circle cx="232.1" cy="69.3" r="1.8" fill="#000"/>
<circle cx="250.22" cy="78.68" r="1.8" fill="#000"/>
<circle cx="158.42" cy="46.8" r="1.25" fill="#666"/>
<circle cx="174.24" cy="31.3" r="1.25" fill="#666"/>
<circle cx="174.24" cy="46.28" r="1.25" fill="#666"/>
<circle cx="192.86" cy="27.2" r="1.25" fill="#666"/>
<circle cx="193.36" cy="35.21" r="1.25" fill="#666"/>
<circle cx="212.48" cy="24.41" r="1.25" fill="#666"/>
<circle cx="212.48" cy="31.69" r="1.25" fill="#666"/>
<circle cx="231.1" cy="40.99" r="1.25" fill="#666"/>
<circle cx="248.22" cy="44.77" r="1.25" fill="#666"/>
<line x1="177.74" y1="32.2" x2="177.74" y2="37.8" stroke="#333" stroke-width="0.5"/>
<line x1="176.54" y1="32.2" x2="178.94" y2="32.2" stroke="#333" stroke-width="0.5"/>
<line x1="176.54" y1="37.8" x2="178.94" y2="37.8" stroke="#333" stroke-width="0.5"/>
<line x1="195.86" y1="34.3" x2="195.86" y2="44.1" stroke="#333" stroke-width="0.5"/>
<line x1="194.66" y1="34.3" x2="197.06" y2="34.3" stroke="#333" stroke-width="0.5"/>
<line x1="194.66" y1="44.1" x2="197.06" y2="44.1" stroke="#333" stroke-width="0.5"/>
<line x1="195.86" y1="29.4" x2="195.86" y2="35" stroke="#333" stroke-width="0.5"/>
<line x1="194.66" y1="29.4" x2="197.06" y2="29.4" stroke="#333" stroke-width="0.5"/>
<line x1="194.66" y1="35" x2="197.06" y2="35" stroke="#333" stroke-width="0.5"/>
<line x1="318.1" y1="56.31" x2="318.1" y2="69.34" stroke="#333" stroke-width="0.5"/>
<line x1="316.9" y1="56.31" x2="319.3" y2="56.31" stroke="#333" stroke-width="0.5"/>
<line x1="316.9" y1="69.34" x2="319.3" y2="69.34" stroke="#333" stroke-width="0.5"/>
<path d="M318.1,61.52 C321.09,62.2 330.07,66.65 336.05,65.62 C342.03,64.58 348.02,54.03 354,55.3 C359.98,56.57 365.97,69.3 371.95,73.25 C377.93,77.21 386.91,78.06 389.9,79.03" fill="none" stroke="#000" stroke-width="0.6"/>
<path d="M318.1,59.72 L319.9,62.96 L316.3,62.96Z" fill="#fff" stroke="#000" stroke-width="0.8"/>
<path d="M336.05,63.82 L337.85,67.06 L334.25,67.06Z" fill="#fff" stroke="#000" stroke-width="0.8"/>
<path d="M354,53.5 L355.8,56.74 L352.2,56.74Z" fill="#fff" stroke="#000" stroke-width="0.8"/>
<path d="M371.95,71.45 L373.75,74.69 L370.15,74.69Z" fill="#fff" stroke="#000" stroke-width="0.8"/>
<path d="M389.9,77.23 L391.7,80.47 L388.1,80.47Z" fill="#fff" stroke="#000" stroke-width="0.8"/>
<path d="M300.15,64.87 L318.1,64.5 L336.05,59.81 L354,67 L371.95,74.85 L389.9,78.17" fill="none" stroke="#000" stroke-width="1.0" stroke-dasharray="2,1.3"/>
<circle cx="300.15" cy="64.87" r="1.75" fill="#fff" stroke="#000" stroke-width="0.9"/>
<circle cx="318.1" cy="64.5" r="1.75" fill="#fff" stroke="#000" stroke-width="0.9"/>
<circle cx="336.05" cy="59.81" r="1.75" fill="#fff" stroke="#000" stroke-width="0.9"/>
<circle cx="354" cy="67" r="1.75" fill="#fff" stroke="#000" stroke-width="0.9"/>
<circle cx="371.95" cy="74.85" r="1.75" fill="#fff" stroke="#000" stroke-width="0.9"/>
<circle cx="389.9" cy="78.17" r="1.75" fill="#fff" stroke="#000" stroke-width="0.9"/>
<path d="M300.15,78.77 L318.1,61.89 L336.05,68.08 L354,73.66 L371.95,73.44 L389.9,82.64" fill="none" stroke="#000" stroke-width="1.0"/>
<rect x="298.35" y="76.97" width="3.6" height="3.6" fill="#000"/>
<rect x="316.3" y="60.09" width="3.6" height="3.6" fill="#000"/>
<rect x="334.25" y="66.28" width="3.6" height="3.6" fill="#000"/>
<rect x="352.2" y="71.86" width="3.6" height="3.6" fill="#000"/>
<rect x="370.15" y="71.64" width="3.6" height="3.6" fill="#000"/>
<rect x="388.1" y="80.84" width="3.6" height="3.6" fill="#000"/>
<path d="M300.15,77.16 L318.1,63.49 L336.05,66.59 L354,72.58 L371.95,66.59 L389.9,79.96" fill="none" stroke="#000" stroke-width="1.0"/>
<circle cx="300.15" cy="77.16" r="1.8" fill="#000"/>
<circle cx="318.1" cy="63.49" r="1.8" fill="#000"/>
<circle cx="336.05" cy="66.59" r="1.8" fill="#000"/>
<circle cx="354" cy="72.58" r="1.8" fill="#000"/>
<circle cx="371.95" cy="66.59" r="1.8" fill="#000"/>
<circle cx="389.9" cy="79.96" r="1.8" fill="#000"/>
<line x1="498" y1="47.37" x2="498" y2="67.9" stroke="#333" stroke-width="0.5"/>
<line x1="496.8" y1="47.37" x2="499.2" y2="47.37" stroke="#333" stroke-width="0.5"/>
<line x1="496.8" y1="67.9" x2="499.2" y2="67.9" stroke="#333" stroke-width="0.5"/>
<line x1="516.1" y1="54.09" x2="516.1" y2="64.17" stroke="#333" stroke-width="0.5"/>
<line x1="514.9" y1="54.09" x2="517.3" y2="54.09" stroke="#333" stroke-width="0.5"/>
<line x1="514.9" y1="64.17" x2="517.3" y2="64.17" stroke="#333" stroke-width="0.5"/>
<line x1="443.7" y1="52.22" x2="443.7" y2="60.43" stroke="#333" stroke-width="0.5"/>
<line x1="442.5" y1="52.22" x2="444.9" y2="52.22" stroke="#333" stroke-width="0.5"/>
<line x1="442.5" y1="60.43" x2="444.9" y2="60.43" stroke="#333" stroke-width="0.5"/>
<line x1="461.8" y1="38.03" x2="461.8" y2="47.37" stroke="#333" stroke-width="0.5"/>
<line x1="460.6" y1="38.03" x2="463" y2="38.03" stroke="#333" stroke-width="0.5"/>
<line x1="460.6" y1="47.37" x2="463" y2="47.37" stroke="#333" stroke-width="0.5"/>
<path d="M425.6,88.99 L443.7,58.38 L461.8,58.19 L479.9,59.39 L498,64.17 L516.1,71.71" fill="none" stroke="#444" stroke-width="0.7"/>
<path d="M425.6,87.19 L427.4,90.43 L423.8,90.43Z" fill="#fff" stroke="#000" stroke-width="0.8"/>
<path d="M443.7,56.58 L445.5,59.82 L441.9,59.82Z" fill="#fff" stroke="#000" stroke-width="0.8"/>
<path d="M461.8,56.39 L463.6,59.63 L460,59.63Z" fill="#fff" stroke="#000" stroke-width="0.8"/>
<path d="M479.9,57.59 L481.7,60.83 L478.1,60.83Z" fill="#fff" stroke="#000" stroke-width="0.8"/>
<path d="M498,62.37 L499.8,65.61 L496.2,65.61Z" fill="#fff" stroke="#000" stroke-width="0.8"/>
<path d="M516.1,69.91 L517.9,73.15 L514.3,73.15Z" fill="#fff" stroke="#000" stroke-width="0.8"/>
<path d="M425.6,84.1 L443.7,54.68 L461.8,63.08 L479.9,66.29 L498,75.4 L516.1,80.29" fill="none" stroke="#000" stroke-width="0.8"/>
<rect x="423.8" y="82.3" width="3.6" height="3.6" fill="#000"/>
<rect x="441.9" y="52.88" width="3.6" height="3.6" fill="#000"/>
<rect x="460" y="61.28" width="3.6" height="3.6" fill="#000"/>
<rect x="478.1" y="64.49" width="3.6" height="3.6" fill="#000"/>
<rect x="496.2" y="73.6" width="3.6" height="3.6" fill="#000"/>
<rect x="514.3" y="78.49" width="3.6" height="3.6" fill="#000"/>
<path d="M425.6,74.28 L443.7,57.11 L461.8,54.5 L479.9,61.4 L498,66.78 L516.1,76.11" fill="none" stroke="#000" stroke-width="0.8"/>
<circle cx="425.6" cy="74.28" r="1.8" fill="#000"/>
<circle cx="443.7" cy="57.11" r="1.8" fill="#000"/>
<circle cx="461.8" cy="54.5" r="1.8" fill="#000"/>
<circle cx="479.9" cy="61.4" r="1.8" fill="#000"/>
<circle cx="498" cy="66.78" r="1.8" fill="#000"/>
<circle cx="516.1" cy="76.11" r="1.8" fill="#000"/>
<path d="M425.6,70.59 L443.7,54.68 L461.8,48.49 L479.9,43.48 L498,54.5 L516.1,59.39" fill="none" stroke="#000" stroke-width="0.8" stroke-dasharray="2,1.3"/>
<circle cx="425.6" cy="70.59" r="1.75" fill="#fff" stroke="#000" stroke-width="0.9"/>
<circle cx="443.7" cy="54.68" r="1.75" fill="#fff" stroke="#000" stroke-width="0.9"/>
<circle cx="461.8" cy="48.49" r="1.75" fill="#fff" stroke="#000" stroke-width="0.9"/>
<circle cx="479.9" cy="43.48" r="1.75" fill="#fff" stroke="#000" stroke-width="0.9"/>
<circle cx="498" cy="54.5" r="1.75" fill="#fff" stroke="#000" stroke-width="0.9"/>
<circle cx="516.1" cy="59.39" r="1.75" fill="#fff" stroke="#000" stroke-width="0.9"/>
<path d="M425.6,65.7 C428.62,63.05 437.67,53.28 443.7,49.79 C449.73,46.3 455.77,43.75 461.8,44.75 C467.83,45.76 473.87,53.36 479.9,55.8 C485.93,58.24 491.97,57.35 498,59.39 C504.03,61.42 513.08,66.57 516.1,68.01" fill="none" stroke="#000" stroke-width="0.8"/>
<circle cx="425.6" cy="65.7" r="1.75" fill="#fff" stroke="#000" stroke-width="0.9"/>
<circle cx="443.7" cy="49.79" r="1.75" fill="#fff" stroke="#000" stroke-width="0.9"/>
<circle cx="461.8" cy="44.75" r="1.75" fill="#fff" stroke="#000" stroke-width="0.9"/>
<circle cx="479.9" cy="55.8" r="1.75" fill="#fff" stroke="#000" stroke-width="0.9"/>
<circle cx="498" cy="59.39" r="1.75" fill="#fff" stroke="#000" stroke-width="0.9"/>
<circle cx="516.1" cy="68.01" r="1.75" fill="#fff" stroke="#000" stroke-width="0.9"/>
<path d="M425.6,67.9 C428.62,61.03 437.67,31.16 443.7,26.68 C449.73,22.2 455.77,35.57 461.8,41.02 C467.83,46.47 473.87,55.99 479.9,59.39 C485.93,62.79 491.97,59.35 498,61.4 C504.03,63.46 513.08,69.99 516.1,71.71" fill="none" stroke="#000" stroke-width="0.9"/>
<circle cx="425.6" cy="67.9" r="1.8" fill="#000"/>
<circle cx="443.7" cy="26.68" r="1.8" fill="#000"/>
<circle cx="461.8" cy="41.02" r="1.8" fill="#000"/>
<circle cx="479.9" cy="59.39" r="1.8" fill="#000"/>
<circle cx="498" cy="61.4" r="1.8" fill="#000"/>
<circle cx="516.1" cy="71.71" r="1.8" fill="#000"/>
<circle cx="443.7" cy="21.68" r="1.25" fill="#666"/>
<line x1="89.4" y1="140.12" x2="89.4" y2="163.72" stroke="#333" stroke-width="0.5"/>
<line x1="88.2" y1="140.12" x2="90.6" y2="140.12" stroke="#333" stroke-width="0.5"/>
<line x1="88.2" y1="163.72" x2="90.6" y2="163.72" stroke="#333" stroke-width="0.5"/>
<line x1="107.55" y1="155.86" x2="107.55" y2="195.6" stroke="#333" stroke-width="0.5"/>
<line x1="106.35" y1="155.86" x2="108.75" y2="155.86" stroke="#333" stroke-width="0.5"/>
<line x1="106.35" y1="195.6" x2="108.75" y2="195.6" stroke="#333" stroke-width="0.5"/>
<line x1="125.7" y1="139.3" x2="125.7" y2="199.74" stroke="#333" stroke-width="0.5"/>
<line x1="124.5" y1="139.3" x2="126.9" y2="139.3" stroke="#333" stroke-width="0.5"/>
<line x1="124.5" y1="199.74" x2="126.9" y2="199.74" stroke="#333" stroke-width="0.5"/>
<line x1="53.1" y1="183.18" x2="53.1" y2="199.74" stroke="#333" stroke-width="0.5"/>
<line x1="51.9" y1="183.18" x2="54.3" y2="183.18" stroke="#333" stroke-width="0.5"/>
<line x1="51.9" y1="199.74" x2="54.3" y2="199.74" stroke="#333" stroke-width="0.5"/>
<line x1="34.95" y1="184.84" x2="34.95" y2="197.26" stroke="#333" stroke-width="0.5"/>
<line x1="33.75" y1="184.84" x2="36.15" y2="184.84" stroke="#333" stroke-width="0.5"/>
<line x1="33.75" y1="197.26" x2="36.15" y2="197.26" stroke="#333" stroke-width="0.5"/>
<line x1="71.25" y1="166.62" x2="71.25" y2="186.49" stroke="#333" stroke-width="0.5"/>
<line x1="70.05" y1="166.62" x2="72.45" y2="166.62" stroke="#333" stroke-width="0.5"/>
<line x1="70.05" y1="186.49" x2="72.45" y2="186.49" stroke="#333" stroke-width="0.5"/>
<path d="M34.95,208.02 C37.98,208.57 47.05,210.44 53.1,211.33 C59.15,212.23 65.2,213.95 71.25,213.4 C77.3,212.85 83.35,208.37 89.4,208.02 C95.45,207.68 101.5,210.92 107.55,211.33 C113.6,211.75 122.67,210.64 125.7,210.5" fill="none" stroke="#000" stroke-width="1.0" stroke-dasharray="2,1.3"/>
<path d="M34.95,205.92 L37.05,208.02 L34.95,210.12 L32.85,208.02Z" fill="#fff" stroke="#000" stroke-width="0.8"/>
<path d="M53.1,209.23 L55.2,211.33 L53.1,213.43 L51,211.33Z" fill="#fff" stroke="#000" stroke-width="0.8"/>
<path d="M71.25,211.3 L73.35,213.4 L71.25,215.5 L69.15,213.4Z" fill="#fff" stroke="#000" stroke-width="0.8"/>
<path d="M89.4,205.92 L91.5,208.02 L89.4,210.12 L87.3,208.02Z" fill="#fff" stroke="#000" stroke-width="0.8"/>
<path d="M107.55,209.23 L109.65,211.33 L107.55,213.43 L105.45,211.33Z" fill="#fff" stroke="#000" stroke-width="0.8"/>
<path d="M125.7,208.4 L127.8,210.5 L125.7,212.6 L123.6,210.5Z" fill="#fff" stroke="#000" stroke-width="0.8"/>
<path d="M34.95,206.36 C37.98,207.19 47.05,210.09 53.1,211.33 C59.15,212.57 65.2,214.92 71.25,213.82 C77.3,212.71 83.35,205.4 89.4,204.71 C95.45,204.02 101.5,209.26 107.55,209.68 C113.6,210.09 122.67,207.61 125.7,207.19" fill="none" stroke="#000" stroke-width="1.0"/>
<circle cx="34.95" cy="206.36" r="1.75" fill="#fff" stroke="#000" stroke-width="0.9"/>
<circle cx="53.1" cy="211.33" r="1.75" fill="#fff" stroke="#000" stroke-width="0.9"/>
<circle cx="71.25" cy="213.82" r="1.75" fill="#fff" stroke="#000" stroke-width="0.9"/>
<circle cx="89.4" cy="204.71" r="1.75" fill="#fff" stroke="#000" stroke-width="0.9"/>
<circle cx="107.55" cy="209.68" r="1.75" fill="#fff" stroke="#000" stroke-width="0.9"/>
<circle cx="125.7" cy="207.19" r="1.75" fill="#fff" stroke="#000" stroke-width="0.9"/>
<path d="M34.95,189.8 C37.98,190.77 47.05,197.53 53.1,195.6 C59.15,193.67 65.2,185.59 71.25,178.21 C77.3,170.83 83.35,151.65 89.4,151.3 C95.45,150.96 101.5,172.86 107.55,176.14 C113.6,179.43 122.67,171.86 125.7,171.01" fill="none" stroke="#000" stroke-width="1.0"/>
<rect x="33.15" y="188" width="3.6" height="3.6" fill="#000"/>
<rect x="51.3" y="193.8" width="3.6" height="3.6" fill="#000"/>
<rect x="69.45" y="176.41" width="3.6" height="3.6" fill="#000"/>
<rect x="87.6" y="149.5" width="3.6" height="3.6" fill="#000"/>
<rect x="105.75" y="174.34" width="3.6" height="3.6" fill="#000"/>
<rect x="123.9" y="169.21" width="3.6" height="3.6" fill="#000"/>
<path d="M34.95,163.31 C37.98,167.45 47.05,186.35 53.1,188.15 C59.15,189.94 65.2,180.97 71.25,174.07 C77.3,167.17 83.35,148.13 89.4,146.75 C95.45,145.37 101.5,164.14 107.55,165.79 C113.6,167.45 122.67,158.2 125.7,156.68" fill="none" stroke="#000" stroke-width="1.0"/>
<circle cx="34.95" cy="163.31" r="1.8" fill="#000"/>
<circle cx="53.1" cy="188.15" r="1.8" fill="#000"/>
<circle cx="71.25" cy="174.07" r="1.8" fill="#000"/>
<circle cx="89.4" cy="146.75" r="1.8" fill="#000"/>
<circle cx="107.55" cy="165.79" r="1.8" fill="#000"/>
<circle cx="125.7" cy="156.68" r="1.8" fill="#000"/>
<circle cx="32.95" cy="159.81" r="1.25" fill="#666"/>
<circle cx="33.95" cy="186.3" r="1.25" fill="#666"/>
<circle cx="50.6" cy="192.6" r="1.25" fill="#666"/>
<circle cx="69.25" cy="170.57" r="1.25" fill="#666"/>
<circle cx="88.4" cy="142.75" r="1.25" fill="#666"/>
<circle cx="106.55" cy="161.79" r="1.25" fill="#666"/>
<circle cx="106.55" cy="172.64" r="1.25" fill="#666"/>
<circle cx="123.2" cy="154.68" r="1.25" fill="#666"/>
<circle cx="123.2" cy="169.01" r="1.25" fill="#666"/>
<line x1="196" y1="139.3" x2="196" y2="148.4" stroke="#333" stroke-width="0.5"/>
<line x1="194.8" y1="139.3" x2="197.2" y2="139.3" stroke="#333" stroke-width="0.5"/>
<line x1="194.8" y1="148.4" x2="197.2" y2="148.4" stroke="#333" stroke-width="0.5"/>
<line x1="214.1" y1="154.2" x2="214.1" y2="166.62" stroke="#333" stroke-width="0.5"/>
<line x1="212.9" y1="154.2" x2="215.3" y2="154.2" stroke="#333" stroke-width="0.5"/>
<line x1="212.9" y1="166.62" x2="215.3" y2="166.62" stroke="#333" stroke-width="0.5"/>
<line x1="232.2" y1="141.78" x2="232.2" y2="174.9" stroke="#333" stroke-width="0.5"/>
<line x1="231" y1="141.78" x2="233.4" y2="141.78" stroke="#333" stroke-width="0.5"/>
<line x1="231" y1="174.9" x2="233.4" y2="174.9" stroke="#333" stroke-width="0.5"/>
<line x1="250.3" y1="168.28" x2="250.3" y2="187.32" stroke="#333" stroke-width="0.5"/>
<line x1="249.1" y1="168.28" x2="251.5" y2="168.28" stroke="#333" stroke-width="0.5"/>
<line x1="249.1" y1="187.32" x2="251.5" y2="187.32" stroke="#333" stroke-width="0.5"/>
<line x1="196" y1="168.28" x2="196" y2="180.7" stroke="#333" stroke-width="0.5"/>
<line x1="194.8" y1="168.28" x2="197.2" y2="168.28" stroke="#333" stroke-width="0.5"/>
<line x1="194.8" y1="180.7" x2="197.2" y2="180.7" stroke="#333" stroke-width="0.5"/>
<path d="M159.8,199.74 C162.82,201.12 171.87,206.5 177.9,208.02 C183.93,209.54 189.97,208.57 196,208.85 C202.03,209.12 208.07,210.64 214.1,209.68 C220.13,208.71 226.17,202.91 232.2,203.05 C238.23,203.19 247.28,209.26 250.3,210.5" fill="none" stroke="#000" stroke-width="1.0" stroke-dasharray="2,1.3"/>
<path d="M159.8,197.64 L161.9,199.74 L159.8,201.84 L157.7,199.74Z" fill="#fff" stroke="#000" stroke-width="0.8"/>
<path d="M177.9,205.92 L180,208.02 L177.9,210.12 L175.8,208.02Z" fill="#fff" stroke="#000" stroke-width="0.8"/>
<path d="M196,206.75 L198.1,208.85 L196,210.95 L193.9,208.85Z" fill="#fff" stroke="#000" stroke-width="0.8"/>
<path d="M214.1,207.58 L216.2,209.68 L214.1,211.78 L212,209.68Z" fill="#fff" stroke="#000" stroke-width="0.8"/>
<path d="M232.2,200.95 L234.3,203.05 L232.2,205.15 L230.1,203.05Z" fill="#fff" stroke="#000" stroke-width="0.8"/>
<path d="M250.3,208.4 L252.4,210.5 L250.3,212.6 L248.2,210.5Z" fill="#fff" stroke="#000" stroke-width="0.8"/>
<path d="M159.8,187.73 C162.82,190.84 171.87,203.12 177.9,206.36 C183.93,209.61 189.97,207.19 196,207.19 C202.03,207.19 208.07,207.47 214.1,206.36 C220.13,205.26 226.17,200.57 232.2,200.57 C238.23,200.57 247.28,205.4 250.3,206.36" fill="none" stroke="#000" stroke-width="1.0"/>
<rect x="158.2" y="186.13" width="3.2" height="3.2" fill="#fff" stroke="#000" stroke-width="0.8"/>
<rect x="176.3" y="204.76" width="3.2" height="3.2" fill="#fff" stroke="#000" stroke-width="0.8"/>
<rect x="194.4" y="205.59" width="3.2" height="3.2" fill="#fff" stroke="#000" stroke-width="0.8"/>
<rect x="212.5" y="204.76" width="3.2" height="3.2" fill="#fff" stroke="#000" stroke-width="0.8"/>
<rect x="230.6" y="198.97" width="3.2" height="3.2" fill="#fff" stroke="#000" stroke-width="0.8"/>
<rect x="248.7" y="204.76" width="3.2" height="3.2" fill="#fff" stroke="#000" stroke-width="0.8"/>
<path d="M159.8,177.38 C162.82,182.08 171.87,200.98 177.9,205.54 C183.93,210.09 189.97,205.81 196,204.71 C202.03,203.6 208.07,200.15 214.1,198.91 C220.13,197.67 226.17,196.57 232.2,197.26 C238.23,197.95 247.28,202.09 250.3,203.05" fill="none" stroke="#000" stroke-width="1.0"/>
<circle cx="159.8" cy="177.38" r="1.75" fill="#fff" stroke="#000" stroke-width="0.9"/>
<circle cx="177.9" cy="205.54" r="1.75" fill="#fff" stroke="#000" stroke-width="0.9"/>
<circle cx="196" cy="204.71" r="1.75" fill="#fff" stroke="#000" stroke-width="0.9"/>
<circle cx="214.1" cy="198.91" r="1.75" fill="#fff" stroke="#000" stroke-width="0.9"/>
<circle cx="232.2" cy="197.26" r="1.75" fill="#fff" stroke="#000" stroke-width="0.9"/>
<circle cx="250.3" cy="203.05" r="1.75" fill="#fff" stroke="#000" stroke-width="0.9"/>
<path d="M159.8,193.12 L177.9,191.46 L196,175.31 L214.1,172.42 L232.2,161.65 L250.3,177.8" fill="none" stroke="#000" stroke-width="1.0"/>
<rect x="158" y="191.32" width="3.6" height="3.6" fill="#000"/>
<rect x="176.1" y="189.66" width="3.6" height="3.6" fill="#000"/>
<rect x="194.2" y="173.51" width="3.6" height="3.6" fill="#000"/>
<rect x="212.3" y="170.62" width="3.6" height="3.6" fill="#000"/>
<rect x="230.4" y="159.85" width="3.6" height="3.6" fill="#000"/>
<rect x="248.5" y="176" width="3.6" height="3.6" fill="#000"/>
<path d="M159.8,172.75 C162.82,170.48 171.87,164.05 177.9,159.17 C183.93,154.28 189.97,143.16 196,143.44 C202.03,143.71 208.07,158.62 214.1,160.82 C220.13,163.03 226.17,156.96 232.2,156.68 C238.23,156.41 247.28,158.75 250.3,159.17" fill="none" stroke="#000" stroke-width="1.0"/>
<circle cx="159.8" cy="172.75" r="1.8" fill="#000"/>
<circle cx="177.9" cy="159.17" r="1.8" fill="#000"/>
<circle cx="196" cy="143.44" r="1.8" fill="#000"/>
<circle cx="214.1" cy="160.82" r="1.8" fill="#000"/>
<circle cx="232.2" cy="156.68" r="1.8" fill="#000"/>
<circle cx="250.3" cy="159.17" r="1.8" fill="#000"/>
<circle cx="174.4" cy="157.67" r="1.25" fill="#666"/>
<circle cx="192.5" cy="140.44" r="1.25" fill="#666"/>
<circle cx="210.6" cy="157.82" r="1.25" fill="#666"/>
<circle cx="228.7" cy="154.68" r="1.25" fill="#666"/>
<circle cx="246.8" cy="157.17" r="1.25" fill="#666"/>
<circle cx="174.4" cy="189.96" r="1.25" fill="#666"/>
<circle cx="192.5" cy="172.31" r="1.25" fill="#666"/>
<circle cx="228.7" cy="160.15" r="1.25" fill="#666"/>
<line x1="317.7" y1="161.95" x2="317.7" y2="180.17" stroke="#333" stroke-width="0.5"/>
<line x1="316.5" y1="161.95" x2="318.9" y2="161.95" stroke="#333" stroke-width="0.5"/>
<line x1="316.5" y1="180.17" x2="318.9" y2="180.17" stroke="#333" stroke-width="0.5"/>
<line x1="335.65" y1="140.42" x2="335.65" y2="163.61" stroke="#333" stroke-width="0.5"/>
<line x1="334.45" y1="140.42" x2="336.85" y2="140.42" stroke="#333" stroke-width="0.5"/>
<line x1="334.45" y1="163.61" x2="336.85" y2="163.61" stroke="#333" stroke-width="0.5"/>
<line x1="353.6" y1="143.74" x2="353.6" y2="183.48" stroke="#333" stroke-width="0.5"/>
<line x1="352.4" y1="143.74" x2="354.8" y2="143.74" stroke="#333" stroke-width="0.5"/>
<line x1="352.4" y1="183.48" x2="354.8" y2="183.48" stroke="#333" stroke-width="0.5"/>
<line x1="371.55" y1="175.2" x2="371.55" y2="190.1" stroke="#333" stroke-width="0.5"/>
<line x1="370.35" y1="175.2" x2="372.75" y2="175.2" stroke="#333" stroke-width="0.5"/>
<line x1="370.35" y1="190.1" x2="372.75" y2="190.1" stroke="#333" stroke-width="0.5"/>
<line x1="389.5" y1="188.45" x2="389.5" y2="200.04" stroke="#333" stroke-width="0.5"/>
<line x1="388.3" y1="188.45" x2="390.7" y2="188.45" stroke="#333" stroke-width="0.5"/>
<line x1="388.3" y1="200.04" x2="390.7" y2="200.04" stroke="#333" stroke-width="0.5"/>
<line x1="335.65" y1="171.89" x2="335.65" y2="185.14" stroke="#333" stroke-width="0.5"/>
<line x1="334.45" y1="171.89" x2="336.85" y2="171.89" stroke="#333" stroke-width="0.5"/>
<line x1="334.45" y1="185.14" x2="336.85" y2="185.14" stroke="#333" stroke-width="0.5"/>
<line x1="317.7" y1="183.48" x2="317.7" y2="195.07" stroke="#333" stroke-width="0.5"/>
<line x1="316.5" y1="183.48" x2="318.9" y2="183.48" stroke="#333" stroke-width="0.5"/>
<line x1="316.5" y1="195.07" x2="318.9" y2="195.07" stroke="#333" stroke-width="0.5"/>
<path d="M299.75,198.72 C302.74,197.11 311.72,191.87 317.7,189.11 C323.68,186.35 329.67,183.87 335.65,182.16 C341.63,180.44 347.62,178.35 353.6,178.84 C359.58,179.34 365.57,182.6 371.55,185.14 C377.53,187.68 386.51,192.59 389.5,194.08" fill="none" stroke="#000" stroke-width="1.0" stroke-dasharray="2,1.3"/>
<path d="M299.75,196.62 L301.85,198.72 L299.75,200.82 L297.65,198.72Z" fill="#fff" stroke="#000" stroke-width="0.8"/>
<path d="M317.7,187.01 L319.8,189.11 L317.7,191.21 L315.6,189.11Z" fill="#fff" stroke="#000" stroke-width="0.8"/>
<path d="M335.65,180.06 L337.75,182.16 L335.65,184.26 L333.55,182.16Z" fill="#fff" stroke="#000" stroke-width="0.8"/>
<path d="M353.6,176.74 L355.7,178.84 L353.6,180.94 L351.5,178.84Z" fill="#fff" stroke="#000" stroke-width="0.8"/>
<path d="M371.55,183.04 L373.65,185.14 L371.55,187.24 L369.45,185.14Z" fill="#fff" stroke="#000" stroke-width="0.8"/>
<path d="M389.5,191.98 L391.6,194.08 L389.5,196.18 L387.4,194.08Z" fill="#fff" stroke="#000" stroke-width="0.8"/>
<path d="M299.75,198.72 C302.74,197.17 311.72,193.25 317.7,189.44 C323.68,185.63 329.67,177.63 335.65,175.86 C341.63,174.1 347.62,177.57 353.6,178.84 C359.58,180.11 365.57,180.78 371.55,183.48 C377.53,186.18 386.51,193.14 389.5,195.07" fill="none" stroke="#000" stroke-width="1.0" stroke-dasharray="2,1.3"/>
<circle cx="299.75" cy="198.72" r="1.75" fill="#fff" stroke="#000" stroke-width="0.9"/>
<circle cx="317.7" cy="189.44" r="1.75" fill="#fff" stroke="#000" stroke-width="0.9"/>
<circle cx="335.65" cy="175.86" r="1.75" fill="#fff" stroke="#000" stroke-width="0.9"/>
<circle cx="353.6" cy="178.84" r="1.75" fill="#fff" stroke="#000" stroke-width="0.9"/>
<circle cx="371.55" cy="183.48" r="1.75" fill="#fff" stroke="#000" stroke-width="0.9"/>
<circle cx="389.5" cy="195.07" r="1.75" fill="#fff" stroke="#000" stroke-width="0.9"/>
<path d="M299.75,191.76 C302.74,188.28 311.72,177.46 317.7,170.89 C323.68,164.33 329.67,153.06 335.65,152.35 C341.63,151.63 347.62,161.07 353.6,166.59 C359.58,172.11 365.57,180.55 371.55,185.47 C377.53,190.38 386.51,194.3 389.5,196.07" fill="none" stroke="#000" stroke-width="1.0"/>
<rect x="297.95" y="189.96" width="3.6" height="3.6" fill="#000"/>
<rect x="315.9" y="169.09" width="3.6" height="3.6" fill="#000"/>
<rect x="333.85" y="150.55" width="3.6" height="3.6" fill="#000"/>
<rect x="351.8" y="164.79" width="3.6" height="3.6" fill="#000"/>
<rect x="369.75" y="183.67" width="3.6" height="3.6" fill="#000"/>
<rect x="387.7" y="194.27" width="3.6" height="3.6" fill="#000"/>
<path d="M299.75,193.75 C302.74,190.93 311.72,182.71 317.7,176.86 C323.68,171 329.67,162.12 335.65,158.64 C341.63,155.16 347.62,152.51 353.6,155.99 C359.58,159.47 365.57,173.49 371.55,179.51 C377.53,185.52 386.51,189.99 389.5,192.09" fill="none" stroke="#000" stroke-width="1.0"/>
<circle cx="299.75" cy="193.75" r="1.8" fill="#000"/>
<circle cx="317.7" cy="176.86" r="1.8" fill="#000"/>
<circle cx="335.65" cy="158.64" r="1.8" fill="#000"/>
<circle cx="353.6" cy="155.99" r="1.8" fill="#000"/>
<circle cx="371.55" cy="179.51" r="1.8" fill="#000"/>
<circle cx="389.5" cy="192.09" r="1.8" fill="#000"/>
<circle cx="314.7" cy="165.89" r="1.25" fill="#666"/>
<circle cx="334.65" cy="148.35" r="1.25" fill="#666"/>
<line x1="516.1" y1="153.01" x2="516.1" y2="196.73" stroke="#333" stroke-width="0.5"/>
<line x1="514.9" y1="153.01" x2="517.3" y2="153.01" stroke="#333" stroke-width="0.5"/>
<line x1="514.9" y1="196.73" x2="517.3" y2="196.73" stroke="#333" stroke-width="0.5"/>
<line x1="479.9" y1="178.51" x2="479.9" y2="195.07" stroke="#333" stroke-width="0.5"/>
<line x1="478.7" y1="178.51" x2="481.1" y2="178.51" stroke="#333" stroke-width="0.5"/>
<line x1="478.7" y1="195.07" x2="481.1" y2="195.07" stroke="#333" stroke-width="0.5"/>
<line x1="498" y1="178.51" x2="498" y2="196.73" stroke="#333" stroke-width="0.5"/>
<line x1="496.8" y1="178.51" x2="499.2" y2="178.51" stroke="#333" stroke-width="0.5"/>
<line x1="496.8" y1="196.73" x2="499.2" y2="196.73" stroke="#333" stroke-width="0.5"/>
<path d="M425.6,213.29 C428.62,210.2 437.67,198.33 443.7,194.74 C449.73,191.15 455.77,193.08 461.8,191.76 C467.83,190.44 473.87,187.07 479.9,186.79 C485.93,186.52 491.97,188.45 498,190.1 C504.03,191.76 513.08,195.62 516.1,196.73" fill="none" stroke="#000" stroke-width="0.7"/>
<path d="M425.6,211.09 L427.8,213.29 L425.6,215.49 L423.4,213.29Z" fill="#000"/>
<path d="M443.7,192.54 L445.9,194.74 L443.7,196.94 L441.5,194.74Z" fill="#000"/>
<path d="M461.8,189.56 L464,191.76 L461.8,193.96 L459.6,191.76Z" fill="#000"/>
<path d="M479.9,184.59 L482.1,186.79 L479.9,188.99 L477.7,186.79Z" fill="#000"/>
<path d="M498,187.9 L500.2,190.1 L498,192.3 L495.8,190.1Z" fill="#000"/>
<path d="M516.1,194.53 L518.3,196.73 L516.1,198.93 L513.9,196.73Z" fill="#000"/>
<path d="M425.6,209.31 C428.62,206.39 437.67,194.69 443.7,191.76 C449.73,188.83 455.77,192.04 461.8,191.76 C467.83,191.48 473.87,189.55 479.9,190.1 C485.93,190.66 491.97,197.56 498,195.07 C504.03,192.59 513.08,178.51 516.1,175.2" fill="none" stroke="#000" stroke-width="0.8"/>
<rect x="423.8" y="207.51" width="3.6" height="3.6" fill="#000"/>
<rect x="441.9" y="189.96" width="3.6" height="3.6" fill="#000"/>
<rect x="460" y="189.96" width="3.6" height="3.6" fill="#000"/>
<rect x="478.1" y="188.3" width="3.6" height="3.6" fill="#000"/>
<rect x="496.2" y="193.27" width="3.6" height="3.6" fill="#000"/>
<rect x="514.3" y="173.4" width="3.6" height="3.6" fill="#000"/>
<path d="M425.6,205.67 C428.62,203.08 437.67,193.25 443.7,190.1 C449.73,186.96 455.77,185.69 461.8,186.79 C467.83,187.9 473.87,195.9 479.9,196.73 C485.93,197.56 491.97,192.04 498,191.76 C504.03,191.48 513.08,194.52 516.1,195.07" fill="none" stroke="#000" stroke-width="0.7"/>
<rect x="424" y="204.07" width="3.2" height="3.2" fill="#fff" stroke="#000" stroke-width="0.8"/>
<rect x="442.1" y="188.5" width="3.2" height="3.2" fill="#fff" stroke="#000" stroke-width="0.8"/>
<rect x="460.2" y="185.19" width="3.2" height="3.2" fill="#fff" stroke="#000" stroke-width="0.8"/>
<rect x="478.3" y="195.13" width="3.2" height="3.2" fill="#fff" stroke="#000" stroke-width="0.8"/>
<rect x="496.4" y="190.16" width="3.2" height="3.2" fill="#fff" stroke="#000" stroke-width="0.8"/>
<rect x="514.5" y="193.47" width="3.2" height="3.2" fill="#fff" stroke="#000" stroke-width="0.8"/>
<path d="M425.6,202.03 C428.62,199.76 437.67,190.71 443.7,188.45 C449.73,186.18 455.77,187.62 461.8,188.45 C467.83,189.28 473.87,193.14 479.9,193.42 C485.93,193.69 491.97,190.1 498,190.1 C504.03,190.1 513.08,192.86 516.1,193.42" fill="none" stroke="#000" stroke-width="0.7" stroke-dasharray="2,1.3"/>
<path d="M425.6,199.93 L427.7,202.03 L425.6,204.13 L423.5,202.03Z" fill="#fff" stroke="#000" stroke-width="0.8"/>
<path d="M443.7,186.35 L445.8,188.45 L443.7,190.55 L441.6,188.45Z" fill="#fff" stroke="#000" stroke-width="0.8"/>
<path d="M461.8,186.35 L463.9,188.45 L461.8,190.55 L459.7,188.45Z" fill="#fff" stroke="#000" stroke-width="0.8"/>
<path d="M479.9,191.32 L482,193.42 L479.9,195.52 L477.8,193.42Z" fill="#fff" stroke="#000" stroke-width="0.8"/>
<path d="M498,188 L500.1,190.1 L498,192.2 L495.9,190.1Z" fill="#fff" stroke="#000" stroke-width="0.8"/>
<path d="M516.1,191.32 L518.2,193.42 L516.1,195.52 L514,193.42Z" fill="#fff" stroke="#000" stroke-width="0.8"/>
<path d="M425.6,198.72 C428.62,196.51 437.67,187.73 443.7,185.47 C449.73,183.2 455.77,184.53 461.8,185.14 C467.83,185.74 473.87,187.73 479.9,189.11 C485.93,190.49 491.97,192.86 498,193.42 C504.03,193.97 513.08,192.59 516.1,192.42" fill="none" stroke="#000" stroke-width="0.7"/>
<circle cx="425.6" cy="198.72" r="1.75" fill="#fff" stroke="#000" stroke-width="0.9"/>
<circle cx="443.7" cy="185.47" r="1.75" fill="#fff" stroke="#000" stroke-width="0.9"/>
<circle cx="461.8" cy="185.14" r="1.75" fill="#fff" stroke="#000" stroke-width="0.9"/>
<circle cx="479.9" cy="189.11" r="1.75" fill="#fff" stroke="#000" stroke-width="0.9"/>
<circle cx="498" cy="193.42" r="1.75" fill="#fff" stroke="#000" stroke-width="0.9"/>
<circle cx="516.1" cy="192.42" r="1.75" fill="#fff" stroke="#000" stroke-width="0.9"/>
<path d="M425.6,182.16 C428.62,180.55 437.67,174.54 443.7,172.55 C449.73,170.56 455.77,168.8 461.8,170.23 C467.83,171.67 473.87,179.34 479.9,181.16 C485.93,182.98 491.97,178.84 498,181.16 C504.03,183.48 513.08,192.75 516.1,195.07" fill="none" stroke="#000" stroke-width="1.0"/>
<circle cx="425.6" cy="182.16" r="1.8" fill="#000"/>
<circle cx="443.7" cy="172.55" r="1.8" fill="#000"/>
<circle cx="461.8" cy="170.23" r="1.8" fill="#000"/>
<circle cx="479.9" cy="181.16" r="1.8" fill="#000"/>
<circle cx="498" cy="181.16" r="1.8" fill="#000"/>
<circle cx="516.1" cy="195.07" r="1.8" fill="#000"/>
<circle cx="424.6" cy="178.16" r="1.25" fill="#666"/>
<circle cx="442.7" cy="168.55" r="1.25" fill="#666"/>
<circle cx="460.8" cy="166.23" r="1.25" fill="#666"/>
<rect x="482.4" y="11.5" width="37.6" height="22" fill="#fff"/>
<g stroke="#333" stroke-width="0.6" fill="none">
<line x1="483.6" y1="14.2" x2="483.6" y2="31.6"/><line x1="483.6" y1="31.6" x2="515.5" y2="31.6"/>
<line x1="483.6" y1="31.6" x2="483.6" y2="32.6"/>
<line x1="493.4" y1="31.6" x2="493.4" y2="32.6"/>
<line x1="503.2" y1="31.6" x2="503.2" y2="32.6"/>
<line x1="513.0" y1="31.6" x2="513.0" y2="32.6"/>
</g>
<text x="483.6" y="38.6" class="tk" text-anchor="middle">0</text>
<text x="493.4" y="38.6" class="tk" text-anchor="middle">1</text>
<text x="503.2" y="38.6" class="tk" text-anchor="middle">2</text>
<text x="513.0" y="38.6" class="tk" text-anchor="middle">3</text>
<path d="M490.3,28.8 L494,24.6 C496.5,21.5 498.5,18.5 500.7,17.3 C503,15.8 506,14.6 508.3,14.9 C511,16.5 513.5,20 515.3,23.3" fill="none" stroke="#111" stroke-width="0.8"/>
<path d="M490.3,28.8 L494,24.6 C495,23 496,21.8 497.5,21.4 L503,21.4 C505,19 506.5,15.8 508.1,15.4 C510.5,17 513,20.5 515.3,23.3" fill="none" stroke="#777" stroke-width="0.6"/>
<circle cx="500.7" cy="13.6" r="0.9" fill="#666"/>
<line x1="481" y1="22.2" x2="459.8" y2="28" stroke="#555" stroke-width="0.7"/>
<path d="M457.2,28.7 L461.2,26.4 L461.9,29.0Z" fill="#555"/>
<text x="1.3" y="9.4" class="pl">A</text>
<text x="1.2" y="130.4" class="pl">B</text>
<text x="261" y="10.3" class="pl">C</text>
<text x="261" y="130.4" class="pl">D</text>
<text x="71.25" y="8.7" class="ti" text-anchor="middle" textLength="61.3" lengthAdjust="spacingAndGlyphs">Primary recipients</text>
<text x="201.6" y="8.7" class="ti" text-anchor="middle" textLength="70.2" lengthAdjust="spacingAndGlyphs">Secondary recipients</text>
<text x="334.4" y="8.7" class="ti" text-anchor="middle" textLength="61.2" lengthAdjust="spacingAndGlyphs">Primary recipients</text>
<text x="464.85" y="8.7" class="ti" text-anchor="middle" textLength="70.3" lengthAdjust="spacingAndGlyphs">Secondary recipients</text>
<text x="71.4" y="241.1" class="xl" text-anchor="middle" textLength="95.2" lengthAdjust="spacingAndGlyphs">Months after transplantation</text>
<text x="200.35" y="241.1" class="xl" text-anchor="middle" textLength="95.3" lengthAdjust="spacingAndGlyphs">Months after transplantation</text>
<text x="334.65" y="241.1" class="xl" text-anchor="middle" textLength="94.7" lengthAdjust="spacingAndGlyphs">Months after transplantation</text>
<text x="460.95" y="241.1" class="xl" text-anchor="middle" textLength="95.1" lengthAdjust="spacingAndGlyphs">Months after transplantation</text>
<text transform="translate(6.6,58.8) rotate(-90)" x="0" y="0" class="yl" style="font-size:5.5px" text-anchor="middle" textLength="54.5" lengthAdjust="spacingAndGlyphs">Hemoglogin (g/dL)</text>
<text transform="translate(7.4,176.6) rotate(-90)" x="0" y="0" class="yl" style="font-size:5.5px" text-anchor="middle" textLength="41" lengthAdjust="spacingAndGlyphs">MCV (fl/RBC)</text>
<text transform="translate(266.8,58.4) rotate(-90)" x="0" y="0" class="yl" style="font-size:5.7px" text-anchor="middle" textLength="62.3" lengthAdjust="spacingAndGlyphs">Platelets (x10-6/mL)</text>
<text transform="translate(268.2,175.3) rotate(-90)" x="0" y="0" class="yl" style="font-size:6.4px" text-anchor="middle" textLength="72" lengthAdjust="spacingAndGlyphs">WBC count (10-6 / mL)</text>
</svg>
</body></html>
